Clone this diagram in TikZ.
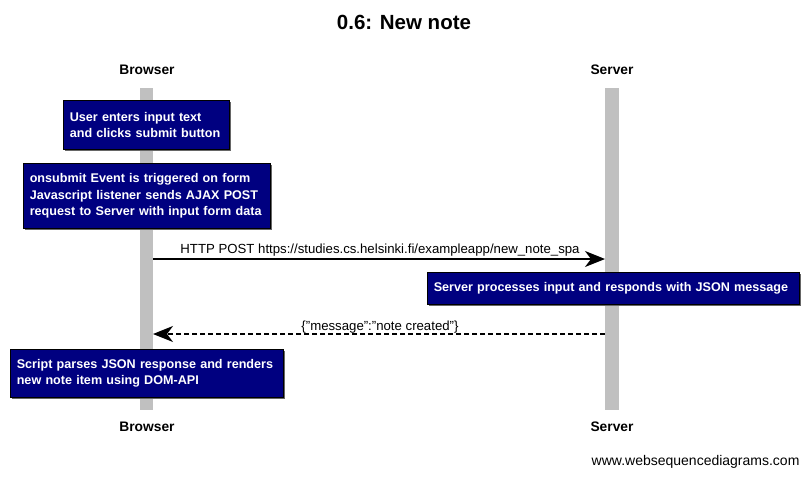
\documentclass[tikz,border=0pt]{standalone}
\usepackage{fontspec}
\setmainfont{Liberation Sans}
\usetikzlibrary{arrows.meta,shadows}
\definecolor{notebg}{RGB}{0,0,128}
\definecolor{lifegray}{RGB}{192,192,192}
\hyphenpenalty=10000
\exhyphenpenalty=10000
\begin{document}
\begin{tikzpicture}[x=1pt, y=-1pt,
    actor/.style={font=\bfseries\fontsize{13.8}{16}\selectfont},
    lifeline/.style={fill=lifegray, draw=none},
    note/.style={anchor=north west, fill=notebg, draw=black, line width=0.6pt,
      text=white, font=\bfseries\fontsize{12.6}{16.3}\selectfont,
      align=left, inner xsep=6.5pt, inner ysep=0pt,
      drop shadow={shadow xshift=2pt, shadow yshift=-2pt, fill=black!60, opacity=1}},
    msg/.style={line width=1.4pt, -{Stealth[length=20pt, width=16pt, inset=6pt]}},
    msglabel/.style={font=\fontsize{13.2}{15}\selectfont, anchor=base}]
  \useasboundingbox[fill=white] (0,0) rectangle (808,477);
  % title and actors
  \node[font=\bfseries\fontsize{20.5}{23}\selectfont] (title) at (404,22) {0.6: New note};
  \fill[lifeline] (140,88) rectangle (153,410);
  \fill[lifeline] (605,88) rectangle (619,410);
  \node[actor] (browsertop) at (147,70) {Browser};
  \node[actor] (servertop) at (612,70) {Server};
  \node[actor] (browserbot) at (147,427) {Browser};
  \node[actor] (serverbot) at (612,427) {Server};
  \coordinate (b1) at (153,259);
  \coordinate (s1) at (605,259);
  \coordinate (b2) at (153,334);
  \coordinate (s2) at (605,334);
  % notes
  \node[note, text width=153pt, minimum height=49pt] (n1) at (63,100)
    {User enters input text\\and clicks submit button};
  \node[note, text width=234pt, minimum height=65pt] (n2) at (23,163)
    {onsubmit Event is triggered on form\\Javascript listener sends AJAX POST\\request to Server with input form data};
  \node[note, text width=359pt, minimum height=32pt] (n3) at (427,272)
    {Server processes input and responds with JSON message};
  \node[note, text width=260pt, minimum height=48pt] (n4) at (10,349)
    {Script parses JSON response and renders\\new note item using DOM-API};
  % messages
  \draw[msg] (b1) -- (s1);
  \node[msglabel] (m1) at (380,253) {HTTP POST https://studies.cs.helsinki.fi/exampleapp/new\_note\_spa};
  \draw[msg, dashed, dash pattern=on 5pt off 3pt] (s2) -- (b2);
  \node[msglabel] (m2) at (380,330) {\{"message":"note created"\}};
  \node[font=\fontsize{14}{16}\selectfont, anchor=east] (wsd) at (803,462) {www.websequencediagrams.com};
\end{tikzpicture}
\end{document}
